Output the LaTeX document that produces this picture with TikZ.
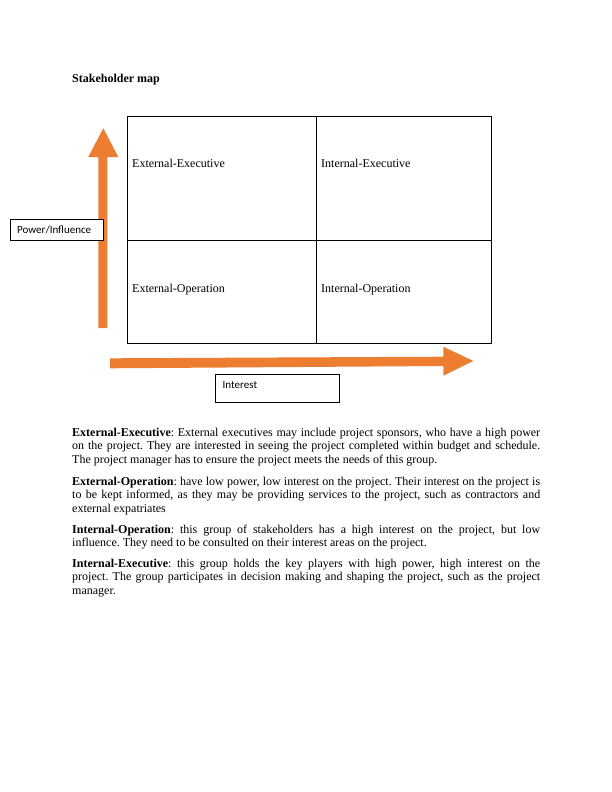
\documentclass[tikz,border=0pt]{standalone}
\usepackage{fontspec}
\setmainfont{Liberation Serif}
\newfontfamily\calibrifont{Carlito}
\definecolor{arroworange}{HTML}{ED7D31}
\begin{document}
\frenchspacing
\hyphenpenalty=10000
\exhyphenpenalty=10000
\begin{tikzpicture}[x=1pt,y=-1pt,
  celltext/.style={anchor=base west,inner sep=0pt,font=\fontsize{12}{14}\selectfont},
  labelbox/.style={draw=black,line width=0.9pt,fill=white},
  labeltext/.style={anchor=base west,inner sep=0pt,font=\calibrifont\fontsize{11}{13}\selectfont},
  bodytext/.style={anchor=base west,inner sep=0pt,text width=468pt,align=justify,font=\fontsize{12}{13.9}\selectfont},
  arrowshape/.style={fill=arroworange,draw=none}]
\useasboundingbox (0,0) rectangle (612,792);
\fill[white] (0,0) rectangle (612,792);
% title
\node[celltext,font=\bfseries\fontsize{12}{14}\selectfont] (title) at (72,82) {Stakeholder map};
% grid
\draw[line width=0.9pt] (127.3,116) rectangle (491,343);
\draw[line width=0.9pt] (316.7,116) -- (316.7,343);
\draw[line width=0.9pt] (127.3,240) -- (491,240);
\node[celltext] (ee) at (132,167.5) {External-Executive};
\node[celltext] (ie) at (321,167.5) {Internal-Executive};
\node[celltext] (eo) at (132,292) {External-Operation};
\node[celltext] (io) at (321,292) {Internal-Operation};
% vertical arrow
\fill[arrowshape] (98.3,328) -- (107.3,328) -- (107.3,157) -- (118.3,157) -- (103.3,128.3) -- (88.3,157) -- (98.3,157) -- cycle;
% horizontal arrow
\fill[arrowshape] (110,358.3) -- (443.3,356.7) -- (443.3,346.7) -- (473.3,361) -- (443.3,375.7) -- (443.3,366) -- (110,368.3) -- cycle;
% label boxes
\draw[labelbox] (10,219) rectangle (103,240);
\node[labeltext] (power) at (17,233) {Power/Influence};
\draw[labelbox] (215,374.3) rectangle (339.3,402.3);
\node[labeltext] (interest) at (222.5,388) {Interest};
% body text
\node[bodytext] (p1) at (72,436) {\textbf{External-Executive}: External executives may include project sponsors, who have a high power\linebreak on the project. They are interested in seeing the project completed within budget and schedule.\linebreak The project manager has to ensure the project meets the needs of this group.};
\node[bodytext] (p2) at (72,485) {\textbf{External-Operation}: have low power, low interest on the project. Their interest on the project is\linebreak to be kept informed, as they may be providing services to the project, such as contractors and\linebreak external expatriates};
\node[bodytext] (p3) at (72,533) {\textbf{Internal-Operation}: this group of stakeholders has a high interest on the project, but low\linebreak influence. They need to be consulted on their interest areas on the project.};
\node[bodytext] (p4) at (72,567) {\textbf{Internal-Executive}: this group holds the key players with high power, high interest on the\linebreak project. The group participates in decision making and shaping the project, such as the project\linebreak manager.};
\end{tikzpicture}
\end{document}
